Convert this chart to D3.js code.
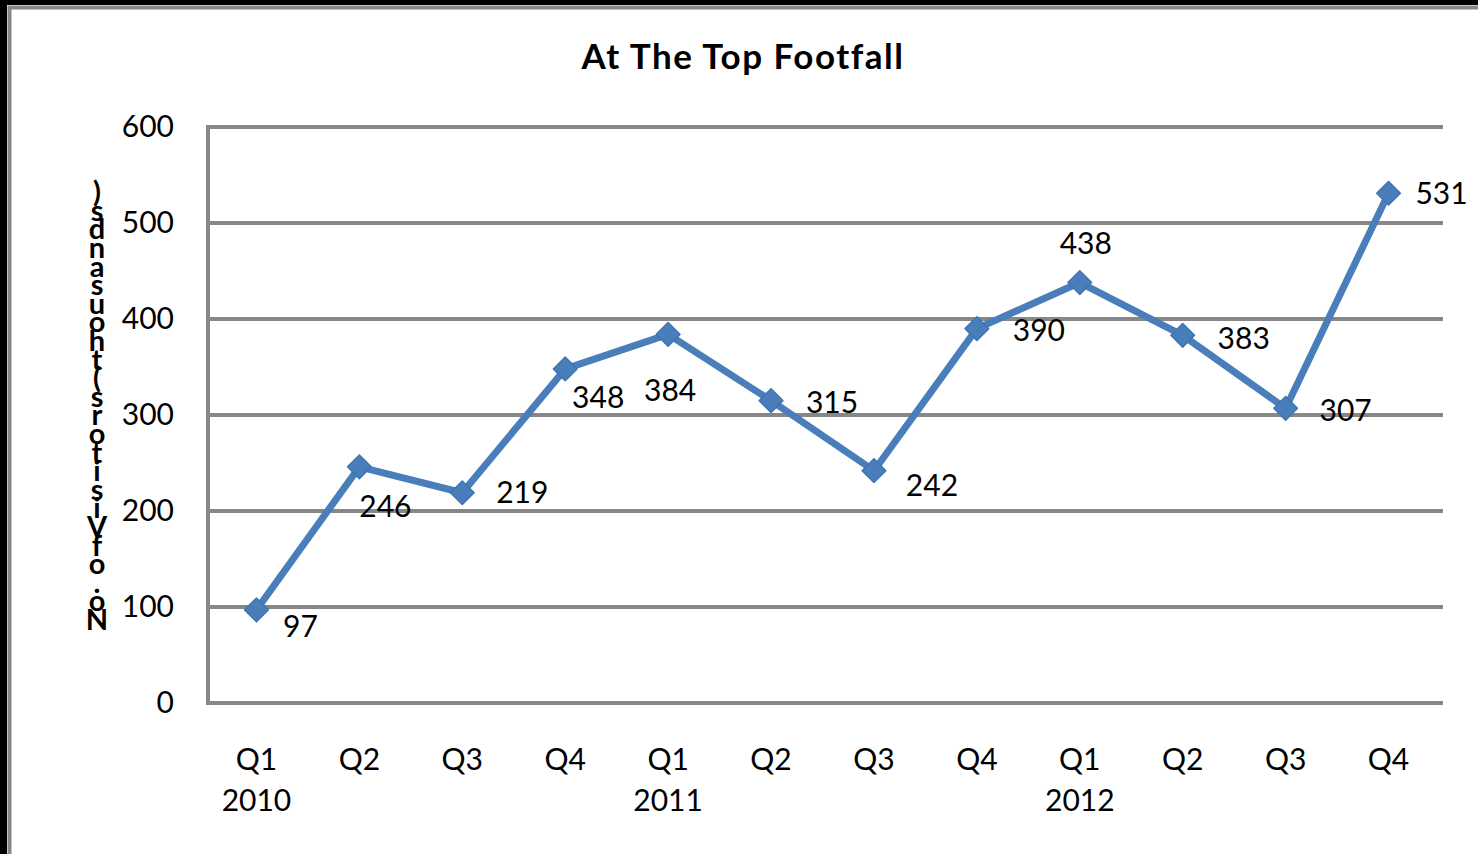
<!DOCTYPE html>
<html>
<head>
<meta charset="utf-8">
<script src="https://cdn.jsdelivr.net/npm/d3@7"></script>
<style>
  body { margin: 0; background: #fff; }
  svg { display: block; }
</style>
</head>
<body>
<div class="main"></div>
<script>
// Données
const quarters = ['Q1', 'Q2', 'Q3', 'Q4', 'Q1', 'Q2', 'Q3', 'Q4', 'Q1', 'Q2', 'Q3', 'Q4'];
const years = ['2010', '', '', '', '2011', '', '', '', '2012', '', '', ''];
const footfall = [97, 246, 219, 348, 384, 315, 242, 390, 438, 383, 307, 531];
const yTicks = [0, 100, 200, 300, 400, 500, 600];
const title = 'At The Top Footfall';
const yTitle = 'No. of Visitors (thousands)';

// Décalages des étiquettes (déplacées à la main dans l'original)
const labelOffsets = [[44, 17], [26, 40], [60, 0], [33, 29], [2, 56], [61, 2],
                      [58, 15], [62, 2], [6, -39], [61, 3], [60, 2], [53, 0]];

const width = 1478;
const height = 854;
const margin = { top: 127, right: 35, bottom: 151, left: 208 };
const font = 'Lato, "Open Sans", sans-serif';
const blue = '#4a7ebb';
const grey = '#878787';

const svg = d3.select('.main')
  .append('svg')
  .attr('width', width)
  .attr('height', height)
  .style('font-family', font);

svg.append('rect').attr('width', width).attr('height', height).attr('fill', '#fff');

// Cadre
svg.append('rect').attr('x', 0).attr('y', 0).attr('width', width).attr('height', 5).attr('fill', '#000');
svg.append('rect').attr('x', 0).attr('y', 0).attr('width', 7).attr('height', height).attr('fill', '#000');
svg.append('path')
  .attr('d', `M9.5,${height} V7.5 H${width}`)
  .attr('fill', 'none')
  .attr('stroke', grey)
  .attr('stroke-width', 4);

// Catégories légèrement décalées par rapport au cadre du graphique
const x = d3.scaleBand()
  .domain(d3.range(quarters.length))
  .range([margin.left - 3, width - margin.right - 3]);
const cx = i => x(i) + x.bandwidth() / 2;

const y = d3.scaleLinear()
  .domain([0, 600])
  .range([height - margin.bottom, margin.top]);

// Quadrillage
svg.append('g')
  .selectAll('line')
  .data(yTicks)
  .join('line')
  .attr('x1', margin.left)
  .attr('x2', width - margin.right)
  .attr('y1', d => y(d))
  .attr('y2', d => y(d))
  .attr('stroke', grey)
  .attr('stroke-width', 4);

svg.append('line')
  .attr('x1', margin.left).attr('x2', margin.left)
  .attr('y1', y(600) - 2).attr('y2', y(0) + 2)
  .attr('stroke', grey)
  .attr('stroke-width', 4);

// Axe vertical
svg.append('g')
  .attr('transform', `translate(${margin.left - 34}, 0)`)
  .call(d3.axisLeft(y).tickValues(yTicks).tickSize(0).tickPadding(0))
  .call(g => g.select('.domain').remove())
  .call(g => g.selectAll('text')
    .attr('font-family', font)
    .attr('font-size', 30)
    .attr('fill', '#000')
    .attr('dy', '0.33em'));

// Axe horizontal
const xAxis = svg.append('g')
  .attr('transform', `translate(0, ${y(0)})`);
xAxis.selectAll('text.q')
  .data(quarters)
  .join('text')
  .attr('class', 'q')
  .attr('x', (d, i) => cx(i))
  .attr('y', 67)
  .attr('text-anchor', 'middle')
  .attr('font-size', 30)
  .text(d => d);
xAxis.selectAll('text.yr')
  .data(years)
  .join('text')
  .attr('class', 'yr')
  .attr('x', (d, i) => cx(i))
  .attr('y', 108)
  .attr('text-anchor', 'middle')
  .attr('font-size', 30)
  .text(d => d);

// Titre
svg.append('text')
  .attr('x', 743)
  .attr('y', 69)
  .attr('text-anchor', 'middle')
  .attr('font-size', 35)
  .attr('font-weight', 'bold')
  .attr('letter-spacing', 1.5)
  .text(title);

// Titre de l'axe vertical (lettres empilées, les espaces ne comptent pas)
const chars = yTitle.split('');
let pos = 0;
const charPos = chars.map(c => (c === ' ' ? pos : pos++));
svg.append('g')
  .selectAll('text')
  .data(chars)
  .join('text')
  .attr('x', 97)
  .attr('y', (d, i) => 630 - charPos[i] * 18.6)
  .attr('text-anchor', 'middle')
  .attr('font-size', 29)
  .attr('font-weight', 'bold')
  .text(d => d);

// Ligne
const line = d3.line()
  .x((d, i) => cx(i))
  .y(d => y(d));

svg.append('path')
  .datum(footfall)
  .attr('d', line)
  .attr('fill', 'none')
  .attr('stroke', blue)
  .attr('stroke-width', 7)
  .attr('stroke-linejoin', 'round');

// Marqueurs
svg.append('g')
  .selectAll('path')
  .data(footfall)
  .join('path')
  .attr('d', d3.symbol(d3.symbolSquare, 280))
  .attr('transform', (d, i) => `translate(${cx(i)}, ${y(d)}) rotate(45)`)
  .attr('fill', blue)
  .attr('stroke', '#3f74b3')
  .attr('stroke-width', 1.5)
  .attr('stroke-linejoin', 'round');

// Étiquettes
svg.append('g')
  .selectAll('text')
  .data(footfall)
  .join('text')
  .attr('x', (d, i) => cx(i) + labelOffsets[i][0])
  .attr('y', (d, i) => y(d) + labelOffsets[i][1])
  .attr('dy', '0.35em')
  .attr('text-anchor', 'middle')
  .attr('font-size', 30)
  .text(d => d);
</script>
</body>
</html>
